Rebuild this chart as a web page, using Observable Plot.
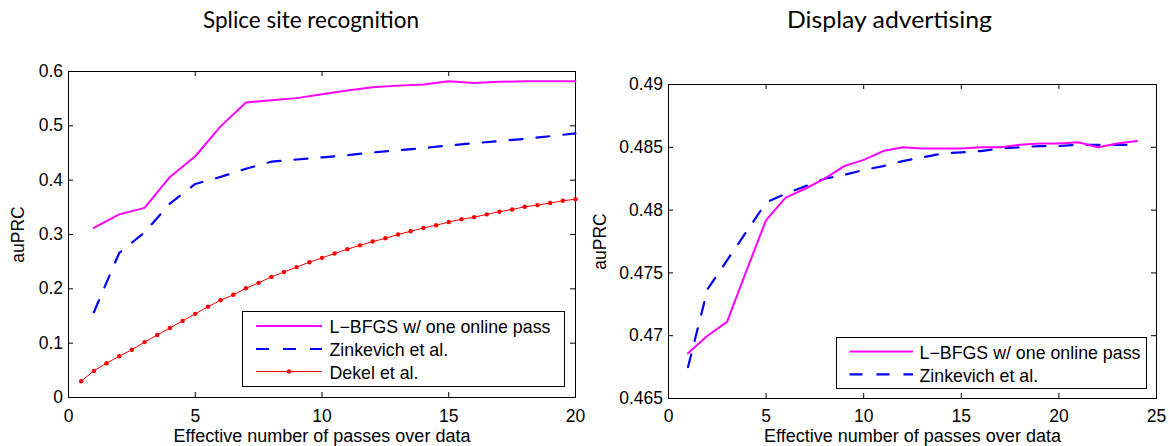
<!DOCTYPE html>
<html>
<head>
<meta charset="utf-8">
<script src="https://cdn.jsdelivr.net/npm/d3@7"></script>
<script src="https://cdn.jsdelivr.net/npm/@observablehq/plot@0.6"></script>
<style>
html, body { margin: 0; padding: 0; background: #fff; }
#chart { position: relative; width: 1169px; height: 446px; overflow: hidden; background: #fff; }
#chart > svg { position: absolute; top: 0; }
</style>
</head>
<body>
<div id="chart"></div>
<script>
// ---------- Data: Splice site recognition ----------
const spliceTitle = "Splice site recognition";
const spliceX = [1, 2, 3, 4, 5, 6, 7, 8, 9, 10, 11, 12, 13, 14, 15, 16, 17, 18, 19, 20];
const spliceLBFGS = [0.312, 0.337, 0.349, 0.406, 0.444, 0.499, 0.543, 0.547, 0.551, 0.558, 0.565, 0.571, 0.574, 0.576, 0.582, 0.579, 0.581, 0.582, 0.582, 0.582];
const spliceZink = [0.157, 0.266, 0.304, 0.357, 0.393, 0.406, 0.421, 0.434, 0.438, 0.442, 0.446, 0.451, 0.455, 0.459, 0.464, 0.468, 0.472, 0.476, 0.481, 0.486];
const dekelX = [0.5, 1, 1.5, 2, 2.5, 3, 3.5, 4, 4.5, 5, 5.5, 6, 6.5, 7, 7.5, 8, 8.5, 9, 9.5, 10, 10.5, 11, 11.5, 12, 12.5, 13, 13.5, 14, 14.5, 15, 15.5, 16, 16.5, 17, 17.5, 18, 18.5, 19, 19.5, 20];
const dekelY = [0.030, 0.049, 0.063, 0.076, 0.088, 0.102, 0.115, 0.128, 0.141, 0.154, 0.167, 0.179, 0.189, 0.201, 0.211, 0.222, 0.231, 0.240, 0.249, 0.257, 0.265, 0.273, 0.280, 0.287, 0.293, 0.300, 0.306, 0.312, 0.317, 0.323, 0.328, 0.332, 0.337, 0.342, 0.346, 0.351, 0.354, 0.358, 0.362, 0.365];
const spliceXTicks = [0, 5, 10, 15, 20];
const spliceYTicks = [0, 0.1, 0.2, 0.3, 0.4, 0.5, 0.6];
const spliceLegend = ["L\u2212BFGS w/ one online pass", "Zinkevich et al.", "Dekel et al."];

// ---------- Data: Display advertising ----------
const adTitle = "Display advertising";
const adX = [1, 2, 3, 4, 5, 6, 7, 8, 9, 10, 11, 12, 13, 14, 15, 16, 17, 18, 19, 20, 21, 22, 23, 24];
const adLBFGS = [0.4686, 0.4700, 0.4711, 0.4752, 0.4792, 0.4810, 0.4817, 0.4825, 0.4835, 0.4840, 0.4847, 0.4850, 0.4849, 0.4849, 0.4849, 0.4850, 0.4850, 0.4852, 0.4853, 0.4853, 0.4854, 0.4850, 0.4853, 0.4855];
const adZink = [0.4675, 0.4737, 0.4760, 0.4783, 0.4806, 0.4813, 0.4819, 0.4825, 0.4828, 0.4832, 0.4835, 0.4839, 0.4842, 0.4845, 0.4846, 0.4847, 0.4849, 0.4850, 0.4851, 0.4851, 0.4852, 0.4852, 0.4852, 0.4852];
const adXTicks = [0, 5, 10, 15, 20, 25];
const adYTicks = [0.465, 0.47, 0.475, 0.48, 0.485, 0.49];
const adLegend = ["L\u2212BFGS w/ one online pass", "Zinkevich et al."];

const xLabel = "Effective number of passes over data";
const yLabel = "auPRC";

// ---------- Styles ----------
const MAGENTA = "#ff00ff", BLUE = "#0000ff", RED = "#ff0000";
const DASH = "13,14";
const FONT = "'Liberation Sans', Arial, Helvetica, sans-serif";

function panel({width, height, mt, mr, mb, ml, xDomain, yDomain, xTicks, yTicks, series, xPad, yLabelDx, xLabelDy}) {
  const fw = width - ml - mr, fh = height - mt - mb, tl = 5;
  const marks = [
    Plot.frame({stroke: "black", strokeWidth: 1}),
    Plot.ruleX(xTicks, {stroke: "black", insetTop: fh - tl}),
    Plot.ruleX(xTicks, {stroke: "black", insetBottom: fh - tl}),
    Plot.ruleY(yTicks, {stroke: "black", insetRight: fw - tl}),
    Plot.ruleY(yTicks, {stroke: "black", insetLeft: fw - tl}),
    Plot.axisX({ticks: xTicks, tickSize: 0, tickPadding: xPad, label: null, tickFormat: d => String(d)}),
    Plot.axisY({ticks: yTicks, tickSize: 0, tickPadding: 5.5, label: null, tickFormat: d => String(d)}),
    Plot.text([yLabel], {frameAnchor: "left", text: d => d, rotate: -90, dx: yLabelDx, lineAnchor: "middle", textAnchor: "middle", fontSize: 17.5}),
    Plot.text([xLabel], {frameAnchor: "bottom", text: d => d, dy: xLabelDy, lineAnchor: "middle", textAnchor: "middle", fontSize: 18}),
    ...series
  ];
  return Plot.plot({
    width, height,
    marginTop: mt, marginRight: mr, marginBottom: mb, marginLeft: ml,
    x: {domain: xDomain},
    y: {domain: yDomain},
    style: {fontFamily: FONT, fontSize: "17.5px", color: "black", background: "white", overflow: "visible"},
    marks
  });
}

const zip = (xs, ys) => xs.map((x, i) => ({x, y: ys[i]}));

const left = panel({
  width: 585, height: 446, mt: 71, mr: 10, mb: 49, ml: 68,
  xDomain: [0, 20], yDomain: [0, 0.6],
  xTicks: spliceXTicks, yTicks: spliceYTicks, xPad: 12, yLabelDx: -50, xLabelDy: 39,
  series: [
    Plot.line(zip(dekelX, dekelY), {x: "x", y: "y", stroke: RED, strokeWidth: 1}),
    Plot.dot(zip(dekelX, dekelY), {x: "x", y: "y", r: 2.2, fill: RED, stroke: "none"}),
    Plot.line(zip(spliceX, spliceZink), {x: "x", y: "y", stroke: BLUE, strokeWidth: 2.2, strokeDasharray: DASH}),
    Plot.line(zip(spliceX, spliceLBFGS), {x: "x", y: "y", stroke: MAGENTA, strokeWidth: 2})
  ]
});
left.style.left = "0px";

const right = panel({
  width: 584, height: 446, mt: 84, mr: 13, mb: 48, ml: 83,
  xDomain: [0, 25], yDomain: [0.465, 0.49],
  xTicks: adXTicks, yTicks: adYTicks, xPad: 11, yLabelDx: -68, xLabelDy: 37.5,
  series: [
    Plot.line(zip(adX, adZink), {x: "x", y: "y", stroke: BLUE, strokeWidth: 2.2, strokeDasharray: DASH}),
    Plot.line(zip(adX, adLBFGS), {x: "x", y: "y", stroke: MAGENTA, strokeWidth: 2})
  ]
});
right.style.left = "585px";

const chart = document.getElementById("chart");
chart.appendChild(left);
chart.appendChild(right);

// ---------- Overlay: titles and legends ----------
const overlay = d3.create("svg")
  .attr("width", 1169).attr("height", 446)
  .style("left", "0px").style("pointer-events", "none");

function title(text, cx, width) {
  overlay.append("text")
    .attr("x", cx).attr("y", 28)
    .attr("text-anchor", "middle")
    .attr("font-family", "Lato, 'Open Sans', sans-serif")
    .attr("font-size", 23)
    .attr("textLength", width).attr("lengthAdjust", "spacingAndGlyphs")
    .attr("fill", "black")
    .text(text);
}
title(spliceTitle, 311, 216);
title(adTitle, 889.5, 205);

function legend({x0, y0, x1, y1, sx0, sx1, tx, rows, labels, styles}) {
  const g = overlay.append("g");
  g.append("rect").attr("x", x0 + 0.5).attr("y", y0 + 0.5)
    .attr("width", x1 - x0).attr("height", y1 - y0)
    .attr("fill", "white").attr("stroke", "black").attr("stroke-width", 1);
  labels.forEach((lab, i) => {
    const s = styles[i], y = rows[i];
    g.append("line").attr("x1", sx0).attr("x2", sx1).attr("y1", y).attr("y2", y)
      .attr("stroke", s.stroke).attr("stroke-width", s.width)
      .attr("stroke-dasharray", s.dash || null);
    if (s.dot) g.append("circle").attr("cx", (sx0 + sx1) / 2).attr("cy", y).attr("r", 2.2).attr("fill", s.stroke);
    g.append("text").attr("x", tx).attr("y", y + 7.3)
      .attr("font-family", FONT).attr("font-size", 17.8).attr("fill", "black")
      .text(lab);
  });
}
const styles = [
  {stroke: MAGENTA, width: 2},
  {stroke: BLUE, width: 2.2, dash: DASH},
  {stroke: RED, width: 1, dot: true}
];
legend({x0: 242, y0: 311, x1: 564, y1: 386, sx0: 256, sx1: 322, tx: 329.5,
  rows: [326, 349, 371.5], labels: spliceLegend, styles});
legend({x0: 836, y0: 337, x1: 1146, y1: 388, sx0: 849.5, sx1: 913, tx: 919.5,
  rows: [351.5, 374.3], labels: adLegend, styles});

chart.appendChild(overlay.node());
</script>
</body>
</html>
